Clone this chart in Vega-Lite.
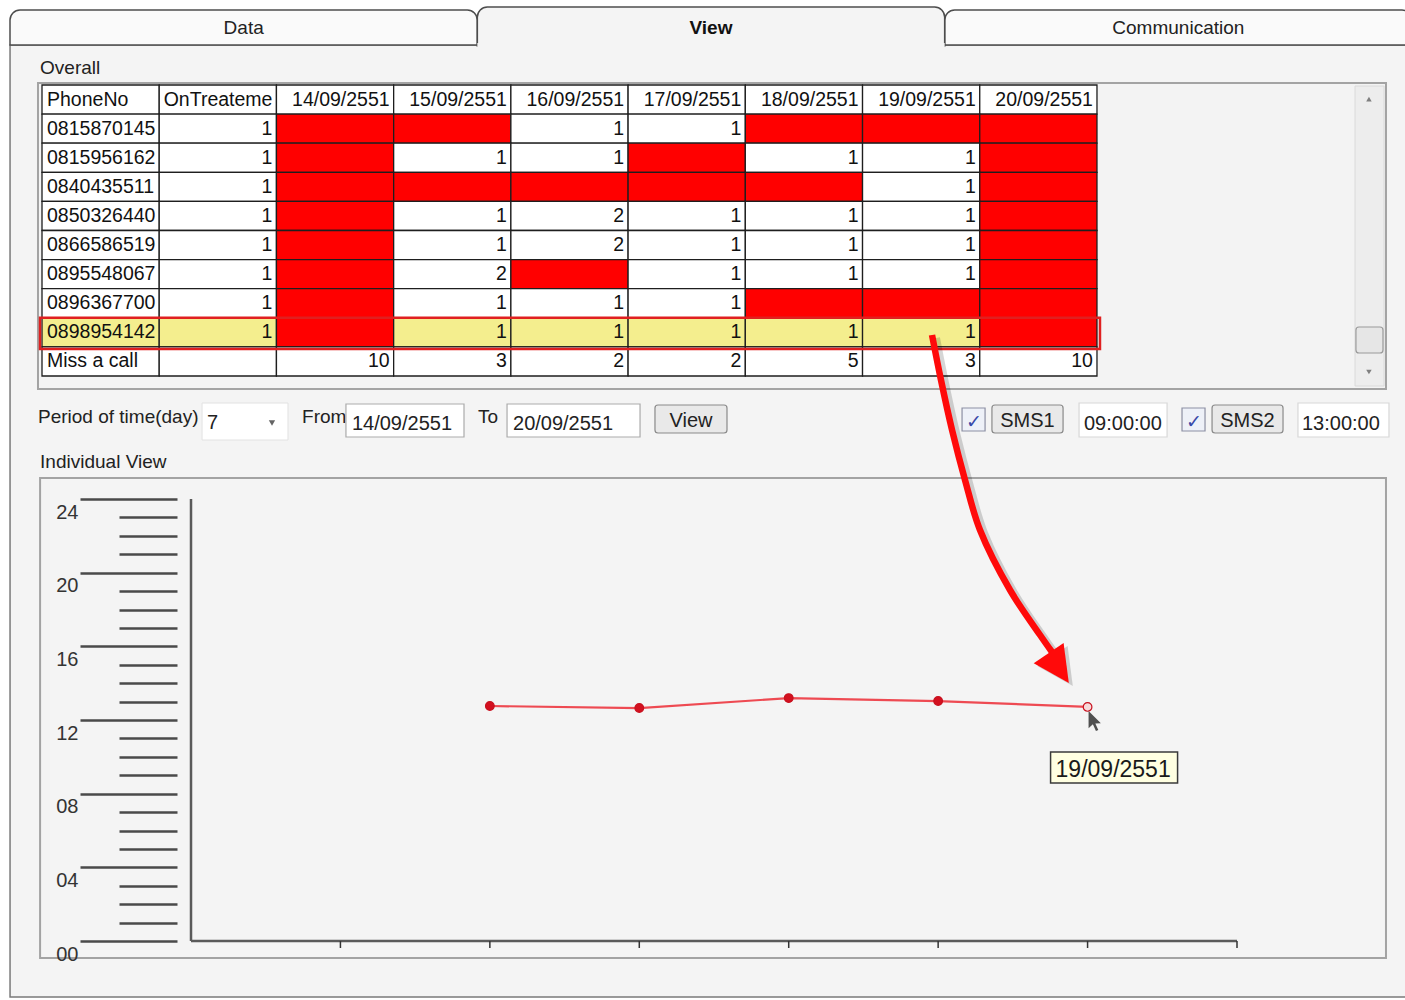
{
"$schema":"https://vega.github.io/schema/vega-lite/v6.json",
"width":1405,"height":1000,"autosize":{"type":"none"},"padding":0,"background":"#ffffff",
"config":{"view":{"stroke":null},"font":"Liberation Sans, Arial, sans-serif"},
"datasets":{
"tabs":[{"tab":"Data"},{"tab":"View"},{"tab":"Communication"}],
"period":[{"date":"14/09/2551","day":14},{"date":"15/09/2551","day":15},{"date":"16/09/2551","day":16},{"date":"17/09/2551","day":17},{"date":"18/09/2551","day":18},{"date":"19/09/2551","day":19},{"date":"20/09/2551","day":20}],
"sms":[{"date":"15/09/2551","day":15,"hour":12.76},{"date":"16/09/2551","day":16,"hour":12.65},{"date":"17/09/2551","day":17,"hour":13.19},{"date":"18/09/2551","day":18,"hour":13.03},{"date":"19/09/2551","day":19,"hour":12.71}],
"arrow":[{"day":17.959,"hour":32.905},{"day":18.019,"hour":30.461},{"day":18.093,"hour":27.746},{"day":18.18,"hour":25.031},{"day":18.28,"hour":22.316},{"day":18.481,"hour":19.059},{"day":18.682,"hour":16.615},{"day":18.762,"hour":15.692}],
"cells":[
{"r":"header","c":"PhoneNo","t":"PhoneNo"},{"r":"header","c":"OnTreateme","t":"OnTreateme"},{"r":"header","c":"14/09/2551","t":"14/09/2551"},{"r":"header","c":"15/09/2551","t":"15/09/2551"},{"r":"header","c":"16/09/2551","t":"16/09/2551"},{"r":"header","c":"17/09/2551","t":"17/09/2551"},{"r":"header","c":"18/09/2551","t":"18/09/2551"},{"r":"header","c":"19/09/2551","t":"19/09/2551"},{"r":"header","c":"20/09/2551","t":"20/09/2551"},
{"r":"0815870145","c":"PhoneNo","t":"0815870145"},{"r":"0815870145","c":"OnTreateme","t":"1"},{"r":"0815870145","c":"14/09/2551","t":"","m":1},{"r":"0815870145","c":"15/09/2551","t":"","m":1},{"r":"0815870145","c":"16/09/2551","t":"1"},{"r":"0815870145","c":"17/09/2551","t":"1"},{"r":"0815870145","c":"18/09/2551","t":"","m":1},{"r":"0815870145","c":"19/09/2551","t":"","m":1},{"r":"0815870145","c":"20/09/2551","t":"","m":1},
{"r":"0815956162","c":"PhoneNo","t":"0815956162"},{"r":"0815956162","c":"OnTreateme","t":"1"},{"r":"0815956162","c":"14/09/2551","t":"","m":1},{"r":"0815956162","c":"15/09/2551","t":"1"},{"r":"0815956162","c":"16/09/2551","t":"1"},{"r":"0815956162","c":"17/09/2551","t":"","m":1},{"r":"0815956162","c":"18/09/2551","t":"1"},{"r":"0815956162","c":"19/09/2551","t":"1"},{"r":"0815956162","c":"20/09/2551","t":"","m":1},
{"r":"0840435511","c":"PhoneNo","t":"0840435511"},{"r":"0840435511","c":"OnTreateme","t":"1"},{"r":"0840435511","c":"14/09/2551","t":"","m":1},{"r":"0840435511","c":"15/09/2551","t":"","m":1},{"r":"0840435511","c":"16/09/2551","t":"","m":1},{"r":"0840435511","c":"17/09/2551","t":"","m":1},{"r":"0840435511","c":"18/09/2551","t":"","m":1},{"r":"0840435511","c":"19/09/2551","t":"1"},{"r":"0840435511","c":"20/09/2551","t":"","m":1},
{"r":"0850326440","c":"PhoneNo","t":"0850326440"},{"r":"0850326440","c":"OnTreateme","t":"1"},{"r":"0850326440","c":"14/09/2551","t":"","m":1},{"r":"0850326440","c":"15/09/2551","t":"1"},{"r":"0850326440","c":"16/09/2551","t":"2"},{"r":"0850326440","c":"17/09/2551","t":"1"},{"r":"0850326440","c":"18/09/2551","t":"1"},{"r":"0850326440","c":"19/09/2551","t":"1"},{"r":"0850326440","c":"20/09/2551","t":"","m":1},
{"r":"0866586519","c":"PhoneNo","t":"0866586519"},{"r":"0866586519","c":"OnTreateme","t":"1"},{"r":"0866586519","c":"14/09/2551","t":"","m":1},{"r":"0866586519","c":"15/09/2551","t":"1"},{"r":"0866586519","c":"16/09/2551","t":"2"},{"r":"0866586519","c":"17/09/2551","t":"1"},{"r":"0866586519","c":"18/09/2551","t":"1"},{"r":"0866586519","c":"19/09/2551","t":"1"},{"r":"0866586519","c":"20/09/2551","t":"","m":1},
{"r":"0895548067","c":"PhoneNo","t":"0895548067"},{"r":"0895548067","c":"OnTreateme","t":"1"},{"r":"0895548067","c":"14/09/2551","t":"","m":1},{"r":"0895548067","c":"15/09/2551","t":"2"},{"r":"0895548067","c":"16/09/2551","t":"","m":1},{"r":"0895548067","c":"17/09/2551","t":"1"},{"r":"0895548067","c":"18/09/2551","t":"1"},{"r":"0895548067","c":"19/09/2551","t":"1"},{"r":"0895548067","c":"20/09/2551","t":"","m":1},
{"r":"0896367700","c":"PhoneNo","t":"0896367700"},{"r":"0896367700","c":"OnTreateme","t":"1"},{"r":"0896367700","c":"14/09/2551","t":"","m":1},{"r":"0896367700","c":"15/09/2551","t":"1"},{"r":"0896367700","c":"16/09/2551","t":"1"},{"r":"0896367700","c":"17/09/2551","t":"1"},{"r":"0896367700","c":"18/09/2551","t":"","m":1},{"r":"0896367700","c":"19/09/2551","t":"","m":1},{"r":"0896367700","c":"20/09/2551","t":"","m":1},
{"r":"0898954142","c":"PhoneNo","t":"0898954142"},{"r":"0898954142","c":"OnTreateme","t":"1"},{"r":"0898954142","c":"14/09/2551","t":"","m":1},{"r":"0898954142","c":"15/09/2551","t":"1"},{"r":"0898954142","c":"16/09/2551","t":"1"},{"r":"0898954142","c":"17/09/2551","t":"1"},{"r":"0898954142","c":"18/09/2551","t":"1"},{"r":"0898954142","c":"19/09/2551","t":"1"},{"r":"0898954142","c":"20/09/2551","t":"","m":1},
{"r":"Miss a call","c":"PhoneNo","t":"Miss a call"},{"r":"Miss a call","c":"OnTreateme","t":""},{"r":"Miss a call","c":"14/09/2551","t":"10"},{"r":"Miss a call","c":"15/09/2551","t":"3"},{"r":"Miss a call","c":"16/09/2551","t":"2"},{"r":"Miss a call","c":"17/09/2551","t":"2"},{"r":"Miss a call","c":"18/09/2551","t":"5"},{"r":"Miss a call","c":"19/09/2551","t":"3"},{"r":"Miss a call","c":"20/09/2551","t":"10"}
]
},
"resolve":{"scale":{"x":"independent","y":"independent"}},
"layer":[
{
"data":{"values":[{}]},
"layer":[
{"mark":{"type":"rect","fill":"#f4f4f4","stroke":"#7a7a7a","strokeWidth":1.5},"encoding":{"x":{"datum":11.789,"type":"quantitative","scale":{"domain":[13,20],"range":[191,1237],"nice":false,"zero":false},"axis":null},"x2":{"datum":21.158},"y":{"datum":48.651,"type":"quantitative","scale":{"domain":[0,24],"range":[941,499],"nice":false,"zero":false},"axis":null},"y2":{"datum":-3.041}}},
{"mark":{"type":"rect","fill":"#f3f3f3","stroke":"#a3a3a3","strokeWidth":2},"encoding":{"x":{"datum":11.976,"axis":null},"x2":{"datum":20.997},"y":{"datum":46.588,"axis":null},"y2":{"datum":29.973}}},
{"mark":{"type":"rect","fill":"#ededed","stroke":"#dadada","strokeWidth":1},"encoding":{"x":{"datum":20.79,"axis":null},"x2":{"datum":20.984},"y":{"datum":46.425,"axis":null},"y2":{"datum":30.135}}},
{"mark":{"type":"rect","fill":"#e6e6e6","stroke":"#9a9a9a","strokeWidth":1.2,"cornerRadius":3},"encoding":{"x":{"datum":20.796,"axis":null},"x2":{"datum":20.977},"y":{"datum":33.339,"axis":null},"y2":{"datum":31.927}}},
{"mark":{"type":"point","shape":"triangle-up","size":30,"filled":true,"color":"#505050"},"encoding":{"x":{"datum":20.883,"axis":null},"y":{"datum":45.719,"axis":null}}},
{"mark":{"type":"point","shape":"triangle-down","size":30,"filled":true,"color":"#505050"},"encoding":{"x":{"datum":20.883,"axis":null},"y":{"datum":30.896,"axis":null}}},
{"mark":{"type":"rect","fill":"#f4f4f4","stroke":"#a3a3a3","strokeWidth":2},"encoding":{"x":{"datum":11.99,"axis":null},"x2":{"datum":20.997},"y":{"datum":25.14,"axis":null},"y2":{"datum":-0.923}}},
{"mark":{"type":"text","text":"Overall","align":"left","baseline":"alphabetic","fontSize":19,"color":"#222222"},"encoding":{"x":{"datum":11.99,"axis":null},"y":{"datum":47.076,"axis":null}}},
{"mark":{"type":"text","text":"Individual View","align":"left","baseline":"alphabetic","fontSize":19,"color":"#222222"},"encoding":{"x":{"datum":11.99,"axis":null},"y":{"datum":25.683,"axis":null}}},
{"mark":{"type":"text","text":"Period of time(day)","align":"left","baseline":"alphabetic","fontSize":19,"color":"#222222"},"encoding":{"x":{"datum":11.976,"axis":null},"y":{"datum":28.126,"axis":null}}},
{"mark":{"type":"rect","fill":"#ffffff","stroke":"#e2e2e2","strokeWidth":1},"encoding":{"x":{"datum":13.074,"axis":null},"x2":{"datum":13.649},"y":{"datum":29.212,"axis":null},"y2":{"datum":27.203}}},
{"mark":{"type":"text","text":"7","align":"left","baseline":"alphabetic","fontSize":20,"color":"#222222"},"encoding":{"x":{"datum":13.107,"axis":null},"y":{"datum":27.801,"axis":null}}},
{"mark":{"type":"point","shape":"triangle-down","size":40,"filled":true,"color":"#222222"},"encoding":{"x":{"datum":13.542,"axis":null},"y":{"datum":28.126,"axis":null}}},
{"mark":{"type":"text","text":"From","align":"left","baseline":"alphabetic","fontSize":19,"color":"#222222"},"encoding":{"x":{"datum":13.743,"axis":null},"y":{"datum":28.126,"axis":null}}},
{"mark":{"type":"rect","fill":"#ffffff","stroke":"#ababab","strokeWidth":1.2},"encoding":{"x":{"datum":14.037,"axis":null},"x2":{"datum":14.827},"y":{"datum":29.158,"axis":null},"y2":{"datum":27.366}}},
{"mark":{"type":"text","text":"14/09/2551","align":"left","baseline":"alphabetic","fontSize":20,"color":"#222222"},"encoding":{"x":{"datum":14.077,"axis":null},"y":{"datum":27.746,"axis":null}}},
{"mark":{"type":"text","text":"To","align":"left","baseline":"alphabetic","fontSize":19,"color":"#222222"},"encoding":{"x":{"datum":14.921,"axis":null},"y":{"datum":28.126,"axis":null}}},
{"mark":{"type":"rect","fill":"#ffffff","stroke":"#ababab","strokeWidth":1.2},"encoding":{"x":{"datum":15.115,"axis":null},"x2":{"datum":16.005},"y":{"datum":29.158,"axis":null},"y2":{"datum":27.366}}},
{"mark":{"type":"text","text":"20/09/2551","align":"left","baseline":"alphabetic","fontSize":20,"color":"#222222"},"encoding":{"x":{"datum":15.155,"axis":null},"y":{"datum":27.746,"axis":null}}},
{"mark":{"type":"rect","fill":"#e9e9e9","stroke":"#8a8a8a","strokeWidth":1.2,"cornerRadius":3},"encoding":{"x":{"datum":16.105,"axis":null},"x2":{"datum":16.587},"y":{"datum":29.104,"axis":null},"y2":{"datum":27.583}}},
{"mark":{"type":"text","text":"View","align":"center","baseline":"alphabetic","fontSize":20,"color":"#222222"},"encoding":{"x":{"datum":16.346,"axis":null},"y":{"datum":27.909,"axis":null}}},
{"mark":{"type":"rect","fill":"#eef1f8","stroke":"#8c8fa3","strokeWidth":1.2},"encoding":{"x":{"datum":18.16,"axis":null},"x2":{"datum":18.314},"y":{"datum":28.941,"axis":null},"y2":{"datum":27.692}}},
{"mark":{"type":"text","text":"✓","align":"center","baseline":"alphabetic","fontSize":19,"color":"#3848a8"},"encoding":{"x":{"datum":18.237,"axis":null},"y":{"datum":27.855,"axis":null}}},
{"mark":{"type":"rect","fill":"#e9e9e9","stroke":"#8a8a8a","strokeWidth":1.2,"cornerRadius":3},"encoding":{"x":{"datum":18.36,"axis":null},"x2":{"datum":18.836},"y":{"datum":29.104,"axis":null},"y2":{"datum":27.583}}},
{"mark":{"type":"text","text":"SMS1","align":"center","baseline":"alphabetic","fontSize":20,"color":"#222222"},"encoding":{"x":{"datum":18.598,"axis":null},"y":{"datum":27.909,"axis":null}}},
{"mark":{"type":"rect","fill":"#ffffff","stroke":"#d8d8d8","strokeWidth":1.2},"encoding":{"x":{"datum":18.943,"axis":null},"x2":{"datum":19.532},"y":{"datum":29.212,"axis":null},"y2":{"datum":27.366}}},
{"mark":{"type":"text","text":"09:00:00","align":"left","baseline":"alphabetic","fontSize":20,"color":"#222222"},"encoding":{"x":{"datum":18.976,"axis":null},"y":{"datum":27.746,"axis":null}}},
{"mark":{"type":"rect","fill":"#eef1f8","stroke":"#8c8fa3","strokeWidth":1.2},"encoding":{"x":{"datum":19.632,"axis":null},"x2":{"datum":19.786},"y":{"datum":28.941,"axis":null},"y2":{"datum":27.692}}},
{"mark":{"type":"text","text":"✓","align":"center","baseline":"alphabetic","fontSize":19,"color":"#3848a8"},"encoding":{"x":{"datum":19.709,"axis":null},"y":{"datum":27.855,"axis":null}}},
{"mark":{"type":"rect","fill":"#e9e9e9","stroke":"#8a8a8a","strokeWidth":1.2,"cornerRadius":3},"encoding":{"x":{"datum":19.833,"axis":null},"x2":{"datum":20.308},"y":{"datum":29.104,"axis":null},"y2":{"datum":27.583}}},
{"mark":{"type":"text","text":"SMS2","align":"center","baseline":"alphabetic","fontSize":20,"color":"#222222"},"encoding":{"x":{"datum":20.07,"axis":null},"y":{"datum":27.909,"axis":null}}},
{"mark":{"type":"rect","fill":"#ffffff","stroke":"#d8d8d8","strokeWidth":1.2},"encoding":{"x":{"datum":20.408,"axis":null},"x2":{"datum":21.017},"y":{"datum":29.212,"axis":null},"y2":{"datum":27.366}}},
{"mark":{"type":"text","text":"13:00:00","align":"left","baseline":"alphabetic","fontSize":20,"color":"#222222"},"encoding":{"x":{"datum":20.435,"axis":null},"y":{"datum":27.746,"axis":null}}}
]
},
{
"data":{"name":"tabs"},
"layer":[
{"transform":[{"filter":"datum.tab !== 'View'"}],"mark":{"type":"rect","fill":"#fafafa","stroke":"#4d4d4d","strokeWidth":1.5,"cornerRadiusTopLeft":10,"cornerRadiusTopRight":10},"encoding":{"x":{"field":"tab","type":"nominal","scale":{"domain":["Data","View","Communication"],"range":[10,1412],"paddingInner":0,"paddingOuter":0},"axis":null},"y":{"datum":50.551,"type":"quantitative","scale":{"domain":[0,24],"range":[941,499],"nice":false,"zero":false},"axis":null},"y2":{"datum":48.651}}},
{"transform":[{"filter":"datum.tab === 'View'"}],"mark":{"type":"rect","fill":"#f4f4f4","stroke":"#4d4d4d","strokeWidth":1.5,"cornerRadiusTopLeft":10,"cornerRadiusTopRight":10},"encoding":{"x":{"field":"tab","type":"nominal","axis":null},"y":{"datum":50.714,"axis":null},"y2":{"datum":48.597}}},
{"transform":[{"filter":"datum.tab === 'View'"}],"mark":{"type":"rect","fill":"#f4f4f4"},"encoding":{"x":{"field":"tab","type":"nominal","axis":null},"y":{"datum":48.76,"axis":null},"y2":{"datum":48.515}}},
{"transform":[{"filter":"datum.tab !== 'View'"}],"mark":{"type":"text","align":"center","baseline":"middle","fontSize":19,"color":"#222222"},"encoding":{"x":{"field":"tab","type":"nominal","bandPosition":0.5,"axis":null},"y":{"datum":49.574,"axis":null},"text":{"field":"tab"}}},
{"transform":[{"filter":"datum.tab === 'View'"}],"mark":{"type":"text","align":"center","baseline":"middle","fontSize":19,"fontWeight":"bold","color":"#111111"},"encoding":{"x":{"field":"tab","type":"nominal","bandPosition":0.5,"axis":null},"y":{"datum":49.574,"axis":null},"text":{"field":"tab"}}}
]
},
{
"data":{"name":"cells"},
"layer":[
{"mark":{"type":"rect","stroke":"#1e1e1e","strokeWidth":1.3},"encoding":{"x":{"field":"c","type":"nominal","scale":{"domain":["PhoneNo","OnTreateme","14/09/2551","15/09/2551","16/09/2551","17/09/2551","18/09/2551","19/09/2551","20/09/2551","_end"],"range":[42,1214.2],"paddingInner":0,"paddingOuter":0},"axis":null},"y":{"field":"r","type":"nominal","scale":{"domain":["header","0815870145","0815956162","0840435511","0850326440","0866586519","0895548067","0896367700","0898954142","Miss a call","_end"],"range":[85,405.1],"paddingInner":0,"paddingOuter":0},"axis":null},"fill":{"condition":[{"test":"datum.m === 1","value":"#ff0000"},{"test":"datum.r === '0898954142'","value":"#f4ee8e"}],"value":"#ffffff"}}},
{"transform":[{"filter":"datum.c === 'PhoneNo'"}],"mark":{"type":"text","align":"left","baseline":"middle","dx":5,"fontSize":19.5,"color":"#111111"},"encoding":{"x":{"field":"c","type":"nominal","bandPosition":0,"axis":null},"y":{"field":"r","type":"nominal","bandPosition":0.5,"axis":null},"text":{"field":"t"}}},
{"transform":[{"filter":"datum.c !== 'PhoneNo'"}],"mark":{"type":"text","align":"right","baseline":"middle","dx":-4,"fontSize":19.5,"color":"#111111"},"encoding":{"x":{"field":"c","type":"nominal","bandPosition":1,"axis":null},"y":{"field":"r","type":"nominal","bandPosition":0.5,"axis":null},"text":{"field":"t"}}},
{"data":{"values":[{}]},"mark":{"type":"rect","fill":"#ffffff","fillOpacity":0,"stroke":"#e02020","strokeWidth":2.5,"xOffset":-2,"x2Offset":3,"y2Offset":2},"encoding":{"x":{"datum":"PhoneNo","bandPosition":0,"axis":null},"x2":{"datum":"_end","bandPosition":0},"y":{"datum":"0898954142","bandPosition":0,"axis":null},"y2":{"datum":"Miss a call","bandPosition":0}}}
]
},
{
"data":{"name":"sms"},
"resolve":{"axis":{"y":"independent"}},
"layer":[
{"data":{"values":[{}]},"mark":{"type":"rule","stroke":"#5a5a5a","strokeWidth":2.5},"encoding":{"x":{"datum":13,"axis":null},"y":{"datum":0,"axis":null},"y2":{"datum":24}}},
{"data":{"values":[{}]},"mark":{"type":"rule","stroke":"#5a5a5a","strokeWidth":2.5},"encoding":{"x":{"datum":13,"axis":null},"x2":{"datum":20},"y":{"datum":0,"axis":null}}},
{"data":{"name":"period"},"mark":{"type":"rule","stroke":"#333333","strokeWidth":1.5,"y2Offset":7},"encoding":{"x":{"field":"day","type":"quantitative","axis":null},"y":{"datum":0,"axis":null},"y2":{"datum":0}}},
{"mark":{"type":"line","stroke":"#ee4a52","strokeWidth":2.2},"encoding":{
"x":{"field":"day","type":"quantitative","scale":{"domain":[13,20],"range":[191,1237],"nice":false,"zero":false},"axis":null},
"y":{"field":"hour","type":"quantitative","scale":{"domain":[0,24],"range":[941,499],"nice":false,"zero":false},"axis":{"orient":"left","offset":-177,"zindex":1,"values":[0,4,8,12,16,20,24],"domain":false,"grid":false,"title":null,"tickColor":"#4a4a4a","tickWidth":2.5,"tickSize":97,"labelExpr":"datum.value < 10 ? '0' + datum.value : '' + datum.value","labelFontSize":20,"labelColor":"#333333","labelPadding":2,"labelBaseline":"top","labelOffset":3,"labelOverlap":false,"labelBound":false,"labelFlush":false,"labelAlign":"right"}}}},
{"mark":{"type":"circle","size":75,"opacity":1,"stroke":"#c8101e","strokeWidth":1.2},"encoding":{"x":{"field":"day","type":"quantitative","axis":null},"y":{"field":"hour","type":"quantitative","axis":{"orient":"left","offset":-177,"zindex":1,"values":[1,2,3,5,6,7,9,10,11,13,14,15,17,18,19,21,22,23],"domain":false,"grid":false,"title":null,"labels":false,"tickColor":"#4a4a4a","tickWidth":2.5,"tickSize":58}},"fill":{"condition":{"test":"datum.day === 19","value":"#f6dada"},"value":"#d3101f"}}},
{"data":{"name":"arrow"},"mark":{"type":"line","interpolate":"catmull-rom","stroke":"#000000","strokeOpacity":0.16,"strokeWidth":8,"xOffset":4,"yOffset":3},"encoding":{"x":{"field":"day","type":"quantitative","axis":null},"y":{"field":"hour","type":"quantitative","axis":null}}},
{"data":{"name":"arrow"},"mark":{"type":"line","interpolate":"catmull-rom","stroke":"#ff0a0a","strokeWidth":6.5},"encoding":{"x":{"field":"day","type":"quantitative","axis":null},"y":{"field":"hour","type":"quantitative","axis":null}}},
{"data":{"values":[{}]},"mark":{"type":"point","shape":"M-1,-1L1,-1L0,1Z","size":1300,"angle":326,"filled":true,"color":"#000000","opacity":0.16,"xOffset":4,"yOffset":3},"encoding":{"x":{"datum":18.807,"axis":null},"y":{"datum":14.823,"axis":null}}},
{"data":{"values":[{}]},"mark":{"type":"point","shape":"M-1,-1L1,-1L0,1Z","size":1300,"angle":326,"filled":true,"color":"#ff0a0a","opacity":1},"encoding":{"x":{"datum":18.807,"axis":null},"y":{"datum":14.823,"axis":null}}},
{"transform":[{"filter":"datum.day === 19"}],"mark":{"type":"rect","fill":"#ffffe1","stroke":"#3a3a3a","strokeWidth":1.5,"xOffset":-37,"x2Offset":90,"yOffset":45,"y2Offset":76},"encoding":{"x":{"field":"day","type":"quantitative","axis":null},"x2":{"field":"day"},"y":{"field":"hour","type":"quantitative","axis":null},"y2":{"field":"hour"}}},
{"transform":[{"filter":"datum.day === 19"}],"mark":{"type":"text","align":"left","baseline":"alphabetic","dx":-32,"dy":70,"fontSize":23,"color":"#1a1a1a"},"encoding":{"x":{"field":"day","type":"quantitative","axis":null},"y":{"field":"hour","type":"quantitative","axis":null},"text":{"field":"date"}}},
{"transform":[{"filter":"datum.day === 19"}],"mark":{"type":"point","shape":"M0,0L0,1.7L0.42,1.3L0.72,1.95L0.95,1.85L0.66,1.22L1.2,1.2Z","size":420,"filled":true,"color":"#505050","opacity":1,"xOffset":1,"yOffset":4},"encoding":{"x":{"field":"day","type":"quantitative","axis":null},"y":{"field":"hour","type":"quantitative","axis":null}}}
]
}
]
}
